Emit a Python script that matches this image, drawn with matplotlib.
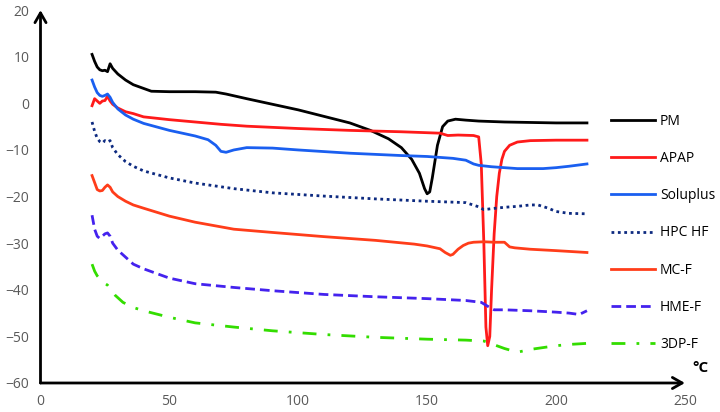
import matplotlib
matplotlib.use('Agg')
import matplotlib.pyplot as plt

plt.rcParams['font.family'] = ['Open Sans', 'DejaVu Sans']

# DSC curves, temperature in degC vs heat flow
pm_x = [20, 21, 22, 23, 24, 25, 26, 27, 28, 30, 33, 36, 40, 43, 50, 60, 68, 72, 80, 90, 100, 110, 120, 128, 135,
        140, 144, 147, 149, 150, 151, 152, 154, 156, 158, 161, 165, 170, 180, 190, 200, 212]
pm_y = [10.5, 9, 7.8, 7.2, 7.0, 7.1, 6.8, 8.5, 7.5, 6.3, 5.0, 4.0, 3.2, 2.6, 2.5, 2.5, 2.4, 2.0, 1.0, -0.2, -1.4,
        -2.8, -4.2, -5.8, -7.6, -9.5, -12, -15, -18.3, -19.4, -19, -16, -9, -5, -3.8, -3.4, -3.6, -3.8, -4.0,
        -4.1, -4.2, -4.2]

apap_x = [20, 21, 22, 23, 24, 25, 26, 27, 28, 30, 33, 36, 40, 50, 60, 70, 80, 100, 120, 140, 150, 155, 158, 162,
          168, 170, 171, 172, 172.8, 173.5, 174.3, 175, 176, 177, 178, 179, 180, 182, 185, 190, 200, 212]
apap_y = [-0.5, 1.0, 0.5, 0.0, 0.5, 0.6, 1.5, 0.5, -0.2, -1.0, -1.8, -2.2, -2.9, -3.5, -4.0, -4.5, -4.9, -5.4,
          -5.8, -6.1, -6.3, -6.4, -6.9, -6.8, -6.9, -7.2, -13, -30, -48, -52, -50, -40, -28, -20, -15, -12, -10.3,
          -9, -8.3, -8.0, -7.9, -7.9]

sol_x = [20, 21, 22, 23, 24, 25, 26, 27, 28, 30, 33, 36, 40, 50, 60, 65, 68, 70, 72, 75, 80, 90, 100, 120, 140,
         150, 160, 165, 168, 170, 175, 185, 195, 200, 205, 212]
sol_y = [5.0, 3.5, 2.3, 1.7, 1.5, 1.7, 2.0, 1.3, 0.2, -1.2, -2.5, -3.4, -4.3, -5.8, -7.0, -7.8, -9.0, -10.3,
         -10.5, -10, -9.5, -9.6, -10.0, -10.7, -11.2, -11.4, -11.8, -12.2, -13.0, -13.3, -13.6, -14.0, -14.0,
         -13.8, -13.5, -13.0]

hpc_x = [20, 21, 22, 23, 24, 25, 26, 27, 28, 30, 33, 36, 40, 50, 60, 75, 90, 110, 130, 150, 160, 165, 170, 172,
         175, 180, 185, 190, 193, 197, 200, 205, 212]
hpc_y = [-4, -6, -7.5, -8.2, -8.5, -8.0, -8.3, -8.0, -9.5, -11.0, -12.5, -13.5, -14.5, -16.0, -17.1, -18.3,
         -19.2, -19.9, -20.5, -21.0, -21.2, -21.3, -22.2, -22.8, -22.6, -22.3, -22.1, -21.8, -21.8, -22.5, -23.2,
         -23.6, -23.7]

mcf_x = [20, 21, 22, 23, 24, 25, 26, 27, 28, 30, 33, 36, 40, 50, 60, 75, 90, 110, 130, 145, 150, 155, 157, 159,
         160, 162, 164, 166, 168, 172, 176, 180, 182, 184, 190, 200, 212]
mcf_y = [-15.5, -17, -18.5, -18.8, -18.7, -18.0, -17.5, -18.0, -19.0, -20.0, -21.0, -21.8, -22.5, -24.2, -25.5,
         -27.0, -27.7, -28.6, -29.4, -30.2, -30.6, -31.2, -32.0, -32.6, -32.4, -31.3, -30.5, -30.0, -29.8, -29.7,
         -29.8, -29.8, -30.8, -31.0, -31.3, -31.6, -32.0]

hme_x = [20, 21, 22, 23, 24, 25, 26, 27, 28, 30, 33, 36, 40, 50, 60, 75, 90, 110, 130, 150, 165, 171, 174, 176,
         180, 190, 200, 205, 209, 212]
hme_y = [-24, -27, -28.5, -29, -28.5, -28, -27.8, -28.5, -30, -31.5, -33, -34.5, -35.5, -37.5, -38.7, -39.5,
         -40.2, -41.0, -41.5, -41.9, -42.3, -42.7, -43.7, -44.3, -44.3, -44.5, -44.8, -45.0, -45.3, -44.5]

tdp_x = [20, 21, 22, 24, 26, 29, 32, 36, 40, 45, 50, 60, 75, 90, 110, 130, 150, 165, 172, 176, 180, 185, 190,
         195, 200, 206, 212]
tdp_y = [-34.5, -36, -37, -38.3, -39, -41.2, -42.7, -43.8, -44.5, -45.2, -45.9, -47.1, -48.0, -48.8, -49.6,
         -50.2, -50.6, -50.8, -51.0, -51.8, -52.6, -53.4, -52.8, -52.4, -52.0, -51.7, -51.5]

x_ticks = [0, 50, 100, 150, 200, 250]
y_ticks = [-60, -50, -40, -30, -20, -10, 0, 10, 20]

fig = plt.figure(figsize=(7.2, 4.12), dpi=100)
ax = fig.add_axes([0.05625, 0.0704, 0.895, 0.905])

lw = 2.0
ax.plot(pm_x, pm_y, color='black', lw=lw, label='PM')
ax.plot(apap_x, apap_y, color='#ff1a1a', lw=lw, label='APAP')
ax.plot(sol_x, sol_y, color='#1a5ff0', lw=lw, label='Soluplus')
ax.plot(hpc_x, hpc_y, color='#0d2a80', lw=lw, ls=(0, (1, 1.3)), label='HPC HF')
ax.plot(mcf_x, mcf_y, color='#ff3d1a', lw=lw, label='MC-F')
ax.plot(hme_x, hme_y, color='#4422ee', lw=lw, ls=(0, (3.5, 1.8)), label='HME-F')
ax.plot(tdp_x, tdp_y, color='#33dd00', lw=lw, ls=(0, (5, 4, 1, 4)), label='3DP-F')

ax.set_xlim(0, 250)
ax.set_ylim(-60, 20)
ax.set_xticks(x_ticks)
ax.set_yticks(y_ticks)
ax.tick_params(length=0, labelsize=10, labelcolor='#595959', pad=8)

for s in ax.spines.values():
    s.set_visible(False)
# axis lines with open arrowheads
ax.annotate('', xy=(1.0, 0), xytext=(0, 0), xycoords='axes fraction',
            arrowprops=dict(arrowstyle='->,head_length=0.7,head_width=0.4', lw=2, color='black',
                            shrinkA=0, shrinkB=0))
ax.annotate('', xy=(0, 1.0), xytext=(0, 0), xycoords='axes fraction',
            arrowprops=dict(arrowstyle='->,head_length=0.7,head_width=0.4', lw=2, color='black',
                            shrinkA=0, shrinkB=0))
ax.text(1.012, 0.04, '°C', transform=ax.transAxes, fontsize=11, fontweight='bold', ha='left', va='center')

ax.legend(loc='upper left', bbox_to_anchor=(0.885, 0.722), frameon=False, fontsize=10,
          handlelength=3.2, handletextpad=0.35, labelspacing=1.6, borderpad=0, borderaxespad=0)

fig.savefig('out.png', dpi=100)
